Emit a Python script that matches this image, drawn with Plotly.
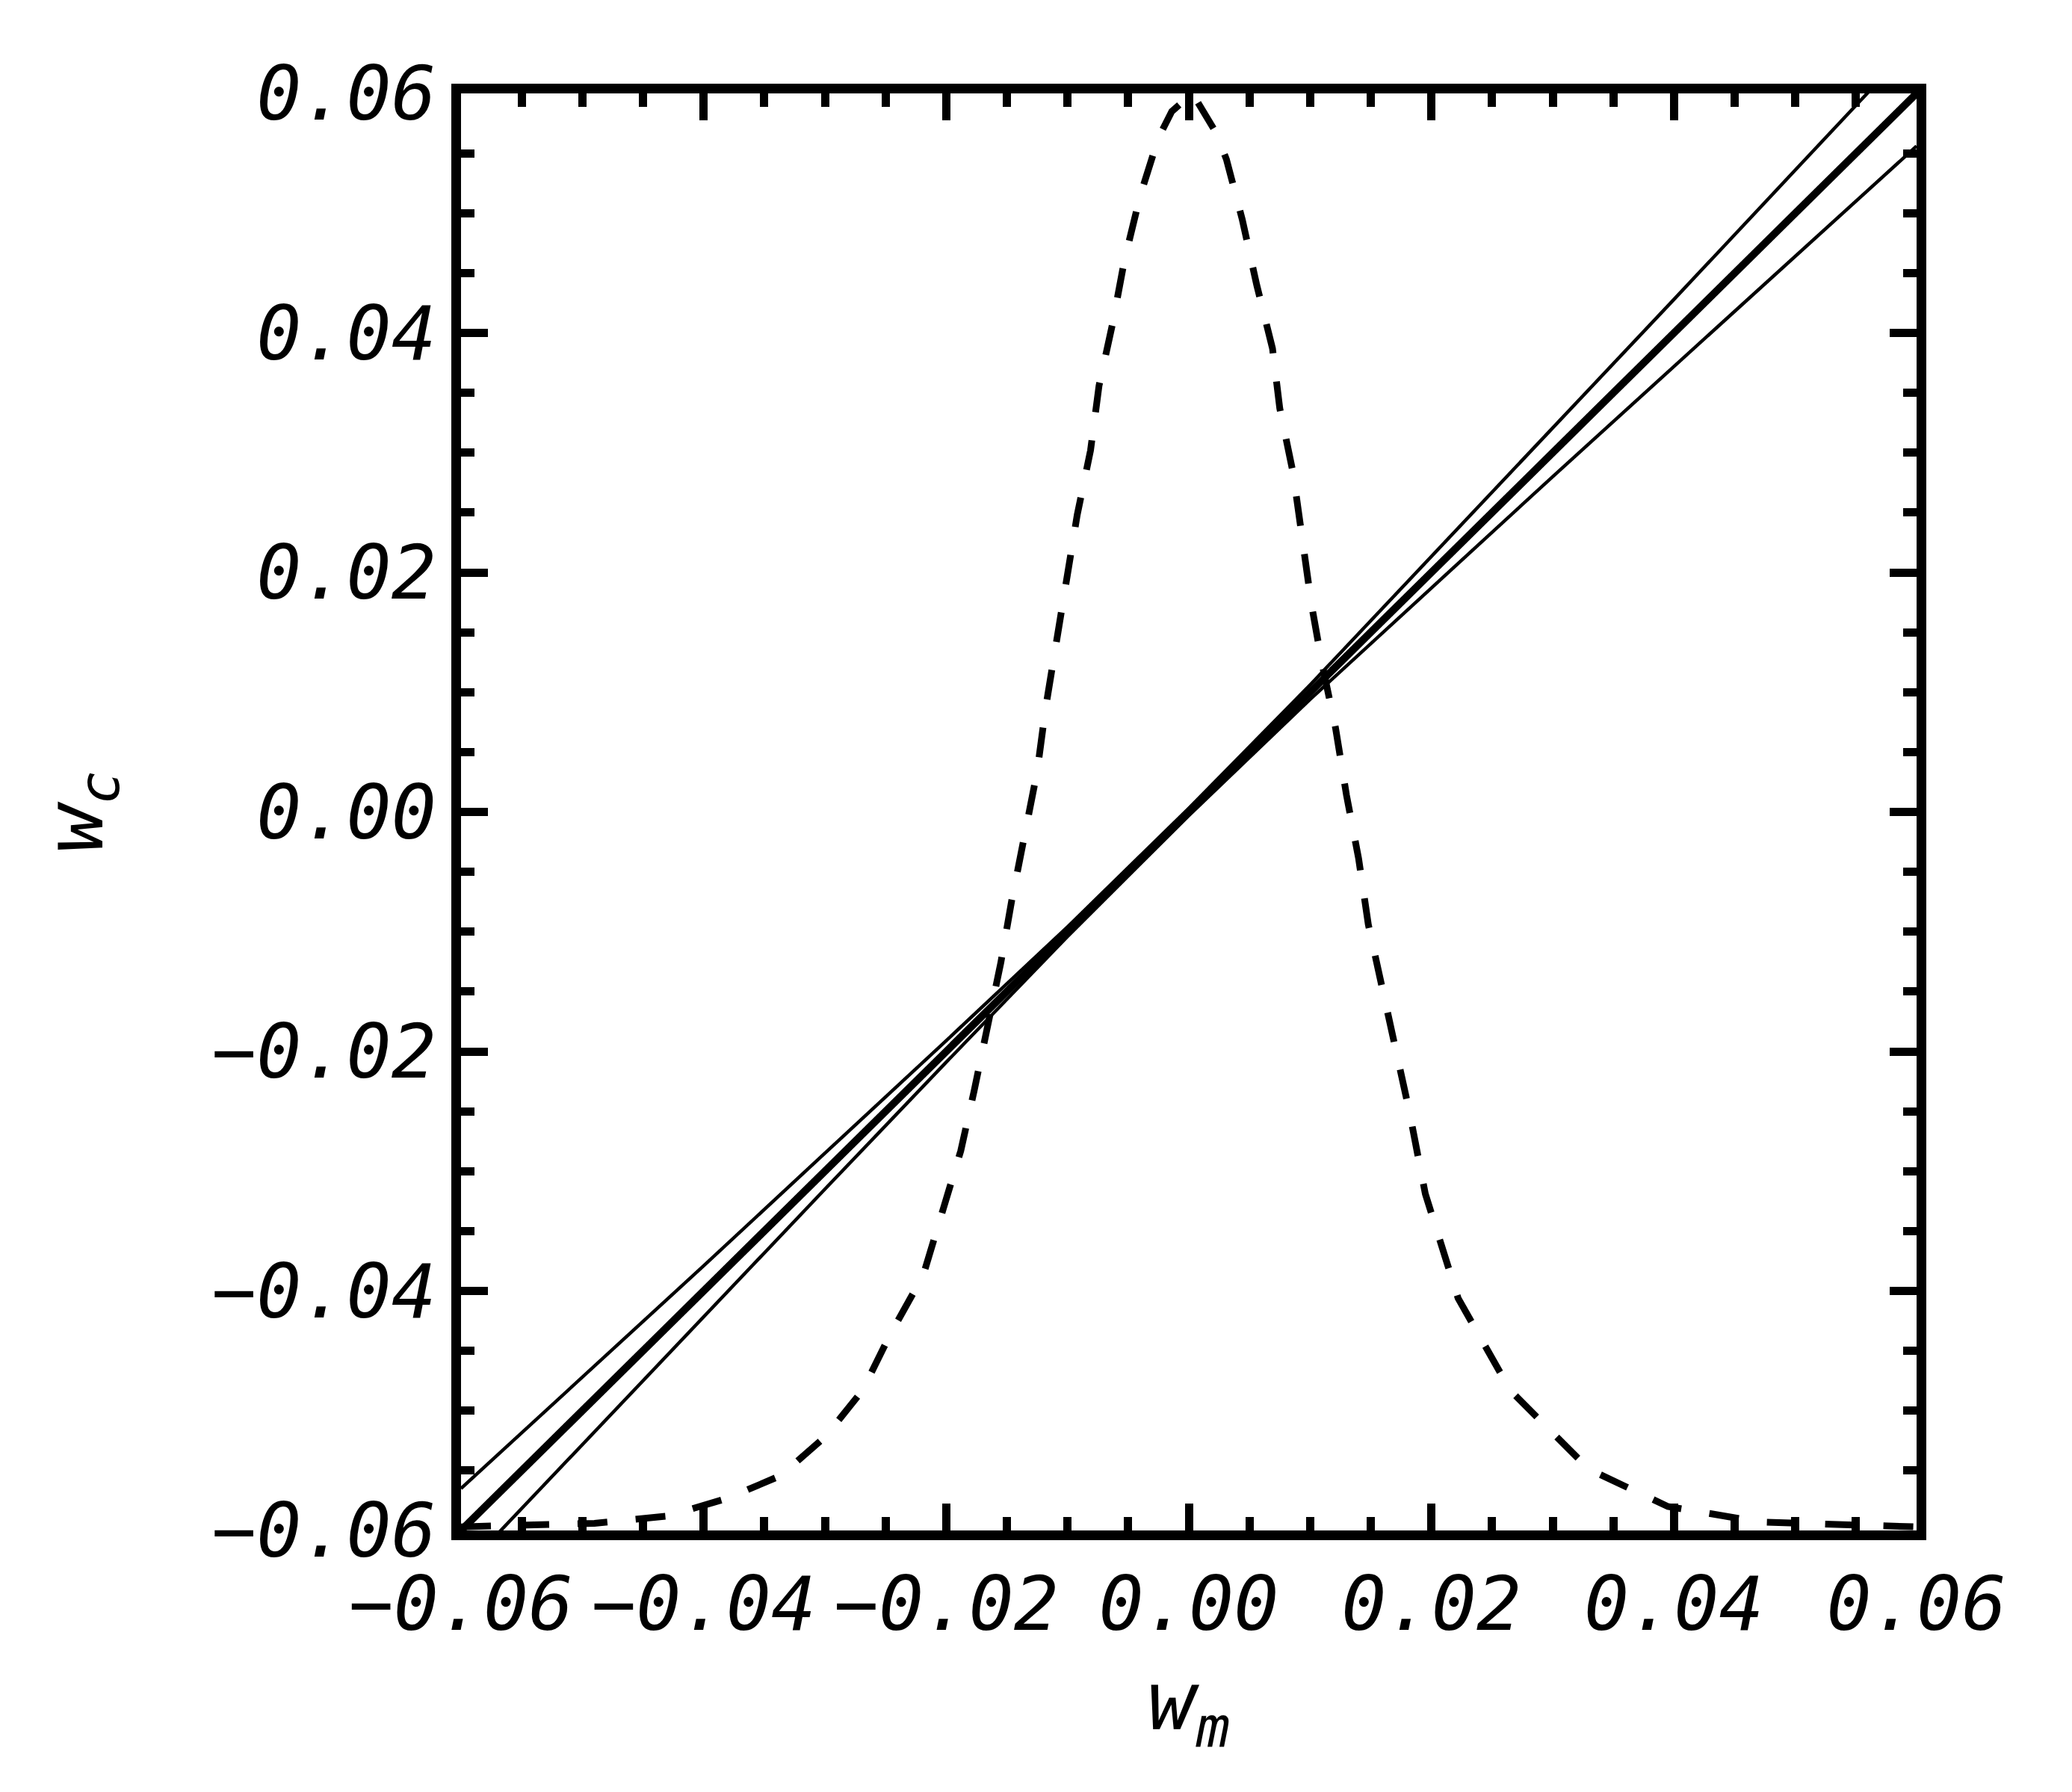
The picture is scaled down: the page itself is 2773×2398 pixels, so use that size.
import plotly.graph_objects as go

# ---- data ----
# thick reference line w_c = w_m
diag_x = [-0.06, 0.06]
diag_y = [-0.06, 0.06]

# thin band lines (above / below the diagonal)
band_x = [-0.06, -0.05, -0.04, -0.03, -0.02, -0.01, 0.0, 0.01, 0.02, 0.03, 0.04, 0.05, 0.06]
band_upper = [-0.0565, -0.0472, -0.0379, -0.0285, -0.0191, -0.0096, 0.0003, 0.0106, 0.0213, 0.0320, 0.0428, 0.0536, 0.0644]
band_lower = [-0.0635, -0.0528, -0.0421, -0.0315, -0.0209, -0.0104, -0.0003, 0.0094, 0.0187, 0.0280, 0.0372, 0.0464, 0.0556]

# dashed peaked curve
dash_x = [-0.060, -0.055, -0.049, -0.043, -0.038, -0.0336, -0.0299, -0.0269, -0.0246, -0.0219,
          -0.0188, -0.0177, -0.0155, -0.0146, -0.0136, -0.0125, -0.0118, -0.0101, -0.0092, -0.0081,
          -0.0074, -0.0063, -0.0053, -0.0040, -0.0025, -0.0014, 0.0003, 0.0022, 0.0031, 0.0044,
          0.0056, 0.0069, 0.0075, 0.0086, 0.0094, 0.0101, 0.0110, 0.0121, 0.0130, 0.0140,
          0.0148, 0.0159, 0.0170, 0.0182, 0.0195, 0.0222, 0.0265, 0.0330, 0.0395, 0.0471, 0.0600]
dash_y = [-0.0597, -0.0595, -0.0594, -0.0588, -0.0573, -0.0554, -0.0521, -0.0483, -0.0436, -0.0387,
          -0.0283, -0.0233, -0.0126, -0.0074, -0.0019, 0.0034, 0.0087, 0.0194, 0.0248, 0.0302,
          0.0356, 0.0407, 0.0461, 0.0515, 0.0563, 0.0585, 0.0600, 0.0568, 0.0545, 0.0495,
          0.0440, 0.0387, 0.0337, 0.0283, 0.0229, 0.0174, 0.0123, 0.0070, 0.0014, -0.0039,
          -0.0094, -0.0145, -0.0199, -0.0251, -0.0319, -0.0406, -0.0483, -0.0549, -0.0580, -0.0593, -0.0597]

tick_vals = [-0.06, -0.04, -0.02, 0.0, 0.02, 0.04, 0.06]
tick_text = ["\u22120.06", "\u22120.04", "\u22120.02", "0.00", "0.02", "0.04", "0.06"]

FONT = "DejaVu Sans Mono"

fig = go.Figure()
fig.add_trace(go.Scatter(x=band_x, y=band_upper, mode="lines",
                         line=dict(color="black", width=4.5), showlegend=False))
fig.add_trace(go.Scatter(x=band_x, y=band_lower, mode="lines",
                         line=dict(color="black", width=4.5), showlegend=False))
fig.add_trace(go.Scatter(x=diag_x, y=diag_y, mode="lines",
                         line=dict(color="black", width=10), showlegend=False))
fig.add_trace(go.Scatter(x=dash_x, y=dash_y, mode="lines",
                         line=dict(color="black", width=9, dash="40px,38px"), showlegend=False))

axis_common = dict(
    range=[-0.06, 0.06],
    showgrid=False, zeroline=False,
    showline=True, linecolor="black", linewidth=13, mirror="ticks",
    ticks="inside", ticklen=36, tickwidth=11, tickcolor="black",
    tickvals=tick_vals, ticktext=tick_text,
    tickfont=dict(family=FONT, size=100, color="black", style="italic"),
    minor=dict(dtick=0.005, tick0=0, ticks="inside", ticklen=18, tickwidth=11, tickcolor="black", showgrid=False),
)

fig.update_xaxes(**axis_common,
                 title=dict(text="w<sub>m</sub>", standoff=40,
                            font=dict(family=FONT, size=108, color="black", style="italic")))
fig.update_yaxes(**axis_common,
                 title=dict(text="w<sub>c</sub>", standoff=115,
                            font=dict(family=FONT, size=108, color="black", style="italic")))

fig.update_layout(
    width=2773, height=2398,
    margin=dict(l=609, r=216, t=117, b=358),
    paper_bgcolor="white", plot_bgcolor="white",
    showlegend=False,
)

fig.write_html("out.html")
